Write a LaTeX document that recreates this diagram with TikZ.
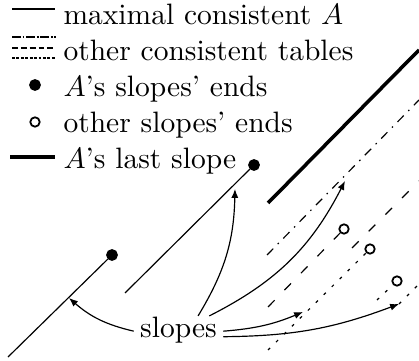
\documentclass[tikz,border=0pt]{standalone}
\usepackage{amsmath,amssymb}
\usepackage{tikz}
\usetikzlibrary{arrows.meta}

\begin{document}
\begin{tikzpicture}[x=0.339pt, y=-0.339pt,
    lastline/.style={line width=1.2pt},
    tabA/.style={dash pattern=on 3pt off 2.2pt on 0.5pt off 2.2pt},
    tabB/.style={dash pattern=on 3.2pt off 4.8pt},
    tabC/.style={dash pattern=on 1pt off 2.8pt},
    keyA/.style={dash pattern=on 3pt off 0.6pt on 0.6pt off 0.6pt},
    keyB/.style={dash pattern=on 2pt off 1pt},
    keyC/.style={dash pattern=on 1pt off 0.5pt},
    aend/.style={circle, draw, fill=black, inner sep=0pt, minimum size=3.6pt},
    oend/.style={circle, draw, fill=white, line width=0.6pt, inner sep=0pt, minimum size=3.2pt},
    lbl/.style={anchor=base west, inner sep=0pt},
    pointer/.style={-{Latex[length=3pt,width=2.4pt]}}]
  \useasboundingbox (0,0) rectangle (419,361);
  % legend
  \draw (12,9) -- (55,9);
  \node[lbl] (lgmax) at (63,24.5) {maximal consistent $A$};
  \draw[keyA] (12,37) -- (56,37);
  \draw[keyB] (12,48) -- (56,48);
  \draw[keyC] (12,58) -- (56,58);
  \node[lbl] (lgother) at (63,60.4) {other consistent tables};
  \node[aend] (keyAend) at (35,85) {};
  \node[lbl] (lgAends) at (63,96.3) {$A$'s slopes' ends};
  \node[oend] (keyOend) at (35,122) {};
  \node[lbl] (lgOends) at (63,132.2) {other slopes' ends};
  \draw[lastline] (10,157) -- (55,157);
  \node[lbl] (lglast) at (63,168.1) {$A$'s last slope};
  % maximal consistent table
  \node[aend] (a1) at (112,255) {};
  \node[aend] (a2) at (254,165) {};
  \coordinate (a1s) at (8,357);
  \coordinate (a2s) at (125,293);
  \draw (a1s) -- (a1);
  \draw (a2s) -- (a2);
  \coordinate (a3s) at (268,203);
  \coordinate (a3e) at (419,50);
  \draw[lastline] (a3s) -- (a3e);
  % other tables
  \coordinate (t1s) at (267,255);
  \coordinate (t1e) at (419,100);
  \draw[tabA] (t1s) -- (t1e);
  \node[oend] (b1) at (344,229) {};
  \coordinate (b1s) at (268,307);
  \coordinate (b2s) at (352,248);
  \coordinate (b2e) at (419,181);
  \draw[tabB] (b1s) -- (b1);
  \draw[tabB] (b2s) -- (b2e);
  \node[oend] (c1) at (370,249) {};
  \node[oend] (c2) at (397,281) {};
  \coordinate (c1s) at (268,350);
  \coordinate (c2s) at (377,300);
  \coordinate (c3s) at (399,304);
  \coordinate (c3e) at (419,284);
  \draw[tabC] (c1s) -- (c1);
  \draw[tabC] (c2s) -- (c2);
  \draw[tabC] (c3s) -- (c3e);
  % pointers
  \node[inner xsep=2pt, inner ysep=0pt, anchor=base] (slopes) at (178.5,337) {slopes};
  \coordinate (hitA1) at (69,298);
  \coordinate (hitA2) at (235,189);
  \coordinate (hitT1) at (345,181);
  \coordinate (hitC1) at (303,312);
  \draw[pointer] (slopes.182) to[bend left=14] (hitA1);
  \draw[pointer] (slopes.35) to[bend right=15] (hitA2);
  \draw[pointer] (slopes.24) to[bend right=18] (hitT1);
  \draw[pointer] (slopes.-2) to[bend right=9] (hitC1);
  \draw[pointer] (slopes.-9) to[bend right=10] (c3s);
\end{tikzpicture}
\end{document}
